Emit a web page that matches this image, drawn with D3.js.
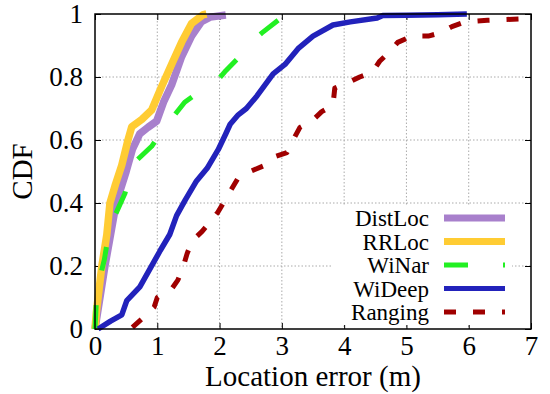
<!DOCTYPE html>
<html>
<head>
<meta charset="utf-8">
<script src="https://cdn.jsdelivr.net/npm/d3@7"></script>
<style>
  body { margin: 0; background: #fff; }
  text { font-family: "Liberation Serif", "Times New Roman", serif; fill: #000; }
</style>
</head>
<body>
<div id="chart"></div>
<script>
// chart size and plot box (gnuplot-like layout)
var svgWidth = 550;
var svgHeight = 394;
var plot = { left: 95, right: 531, top: 14, bottom: 329 };
var serif = "'Liberation Serif', 'Times New Roman', serif";

// ticks
var xTicks = [0, 1, 2, 3, 4, 5, 6, 7];
var yTicks = [0, 0.2, 0.4, 0.6, 0.8, 1];
var yTickLabels = ["0", "0.2", "0.4", "0.6", "0.8", "1"];

// series names (legend order)
var seriesNames = ["DistLoc", "RRLoc", "WiNar", "WiDeep", "Ranging"];

// location error (m) and CDF values
var distLocErr = [0, 0.04, 0.08, 0.16, 0.25, 0.34, 0.5, 0.6, 0.72, 0.85, 0.99, 1.1, 1.23, 1.39, 1.55, 1.71, 1.85, 2.1];
var distLocCdf = [0, 0.05, 0.1, 0.2, 0.3, 0.4, 0.5, 0.57, 0.62, 0.64, 0.66, 0.72, 0.775, 0.864, 0.93, 0.976, 0.99, 0.997];

var rrLocErr = [0, 0.02, 0.05, 0.11, 0.19, 0.24, 0.33, 0.43, 0.53, 0.59, 0.75, 0.91, 1.07, 1.23, 1.39, 1.55, 1.73, 1.79];
var rrLocCdf = [0, 0.05, 0.1, 0.2, 0.3, 0.4, 0.46, 0.52, 0.6, 0.642, 0.665, 0.695, 0.77, 0.84, 0.91, 0.97, 0.997, 1.0];

var wiNarErr = [0, 0.02, 0.1, 0.15, 0.2, 0.32, 0.48, 0.57, 0.64, 0.91, 1.05, 1.2, 1.44, 1.65, 1.88, 2.1, 2.3, 2.5, 2.68, 2.94];
var wiNarCdf = [0, 0.08, 0.18, 0.22, 0.28, 0.36, 0.43, 0.5, 0.53, 0.58, 0.62, 0.66, 0.72, 0.75, 0.77, 0.82, 0.86, 0.91, 0.94, 0.98];

var wiDeepErr = [0.05, 0.25, 0.43, 0.51, 0.72, 0.88, 1.05, 1.2, 1.31, 1.45, 1.63, 1.8, 1.98, 2.1, 2.17, 2.3, 2.43, 2.6, 2.86, 3.05, 3.26, 3.5, 3.82, 4.1, 4.53, 4.62, 5.0, 5.5, 5.97];
var wiDeepCdf = [0, 0.025, 0.045, 0.09, 0.134, 0.19, 0.25, 0.3, 0.36, 0.41, 0.47, 0.51, 0.57, 0.62, 0.65, 0.68, 0.70, 0.74, 0.81, 0.84, 0.89, 0.93, 0.965, 0.975, 0.987, 0.995, 0.996, 0.998, 1.0];

var rangingErr = [0.6, 0.77, 0.95, 1.0, 1.24, 1.33, 1.42, 1.48, 1.56, 1.72, 1.85, 1.97, 2.15, 2.3, 2.49, 2.73, 2.86, 3.08, 3.18, 3.29, 3.48, 3.64, 3.82, 3.85, 4.04, 4.25, 4.45, 4.57, 4.73, 4.86, 5.09, 5.35, 5.54, 5.73, 5.94, 6.3, 6.9];
var rangingCdf = [0.005, 0.035, 0.07, 0.1, 0.13, 0.155, 0.2, 0.24, 0.28, 0.31, 0.34, 0.37, 0.43, 0.48, 0.5, 0.52, 0.545, 0.56, 0.6, 0.64, 0.66, 0.69, 0.71, 0.765, 0.78, 0.80, 0.815, 0.85, 0.88, 0.91, 0.93, 0.93, 0.94, 0.96, 0.975, 0.98, 0.985];

// styling per series
var styles = {
  DistLoc: { color: "#a880cc", width: 7.5, dash: null, lw: 7 },
  RRLoc:   { color: "#ffcc33", width: 7.5, dash: null, lw: 7 },
  WiNar:   { color: "#22f022", width: 5, dash: "24,35", lw: 5 },
  WiDeep:  { color: "#2222bb", width: 5.5, dash: null, lw: 5 },
  Ranging: { color: "#a00000", width: 5, dash: "12,17", lw: 5 }
};

var seriesData = {
  DistLoc: d3.zip(distLocErr, distLocCdf),
  RRLoc: d3.zip(rrLocErr, rrLocCdf),
  WiNar: d3.zip(wiNarErr, wiNarCdf),
  WiDeep: d3.zip(wiDeepErr, wiDeepCdf),
  Ranging: d3.zip(rangingErr, rangingCdf)
};

var svg = d3.select("#chart")
  .append("svg")
  .attr("width", svgWidth)
  .attr("height", svgHeight);

var xScale = d3.scaleLinear().domain([0, 7]).range([plot.left, plot.right]);
var yScale = d3.scaleLinear().domain([0, 1]).range([plot.bottom, plot.top]);

// dotted grid
var grid = svg.append("g")
  .attr("stroke", "#aaa")
  .attr("stroke-width", 1)
  .attr("stroke-dasharray", "1.5,2");

grid.selectAll(".gx")
  .data(xTicks.slice(1, -1))
  .enter().append("line")
  .attr("x1", d => xScale(d)).attr("x2", d => xScale(d))
  .attr("y1", plot.top).attr("y2", plot.bottom);

grid.selectAll(".gy")
  .data(yTicks.slice(1, -1))
  .enter().append("line")
  .attr("x1", plot.left).attr("x2", plot.right)
  .attr("y1", d => yScale(d)).attr("y2", d => yScale(d));

// axes with inward ticks (mirrored on top/right)
var bottomAxis = d3.axisBottom(xScale).tickValues(xTicks).tickSizeInner(-6).tickSizeOuter(0).tickPadding(7).tickFormat(d3.format("d"));
var topAxis = d3.axisTop(xScale).tickValues(xTicks).tickSizeInner(-6).tickSizeOuter(0).tickFormat("");
var leftAxis = d3.axisLeft(yScale).tickValues(yTicks).tickSizeInner(-6).tickSizeOuter(0).tickPadding(12)
  .tickFormat((d, i) => yTickLabels[i]);
var rightAxis = d3.axisRight(yScale).tickValues(yTicks).tickSizeInner(-6).tickSizeOuter(0).tickFormat("");

function styleAxis(g) {
  g.attr("font-family", null);
  g.select(".domain").remove();
  g.selectAll("line").attr("stroke", "#000").attr("stroke-width", 1);
  g.selectAll("text")
    .style("font-family", serif)
    .style("font-size", "27px")
    .attr("fill", "#000");
}

svg.append("g").attr("transform", `translate(0, ${plot.bottom})`).call(bottomAxis).call(styleAxis);
svg.append("g").attr("transform", `translate(0, ${plot.top})`).call(topAxis).call(styleAxis);
svg.append("g").attr("transform", `translate(${plot.left}, 0)`).call(leftAxis).call(styleAxis);
svg.append("g").attr("transform", `translate(${plot.right}, 0)`).call(rightAxis).call(styleAxis);

// curves
var line = d3.line()
  .x(d => xScale(d[0]))
  .y(d => yScale(d[1]));

seriesNames.forEach(function(name) {
  var s = styles[name];
  svg.append("path")
    .datum(seriesData[name])
    .attr("d", line)
    .attr("fill", "none")
    .attr("stroke", s.color)
    .attr("stroke-width", s.width)
    .attr("stroke-linejoin", "round")
    .attr("stroke-dasharray", s.dash);
});

// legend (opaque box, no border)
var legend = svg.append("g");
legend.append("rect")
  .attr("x", 333).attr("y", 205)
  .attr("width", 179).attr("height", 120)
  .attr("fill", "#fff");

var legendY = d3.scalePoint().domain(seriesNames).range([218, 312]);

seriesNames.forEach(function(name) {
  var s = styles[name];
  var y = legendY(name);
  legend.append("text")
    .attr("x", 429)
    .attr("y", y + 8)
    .attr("text-anchor", "end")
    .style("font-size", "23px")
    .text(name);
  legend.append("line")
    .attr("x1", 444).attr("x2", 505)
    .attr("y1", y).attr("y2", y)
    .attr("stroke", s.color)
    .attr("stroke-width", s.lw)
    .attr("stroke-dasharray", s.dash);
});

// plot border
svg.append("rect")
  .attr("x", plot.left).attr("y", plot.top)
  .attr("width", plot.right - plot.left)
  .attr("height", plot.bottom - plot.top)
  .attr("fill", "none")
  .attr("stroke", "#000")
  .attr("stroke-width", 1.5);

// axis labels
svg.append("text")
  .attr("x", (plot.left + plot.right) / 2)
  .attr("y", 386)
  .attr("text-anchor", "middle")
  .style("font-size", "29px")
  .text("Location error (m)");

svg.append("text")
  .attr("transform", `translate(32, ${(plot.top + plot.bottom) / 2}) rotate(-90)`)
  .attr("text-anchor", "middle")
  .style("font-size", "29px")
  .text("CDF");
</script>
</body>
</html>
